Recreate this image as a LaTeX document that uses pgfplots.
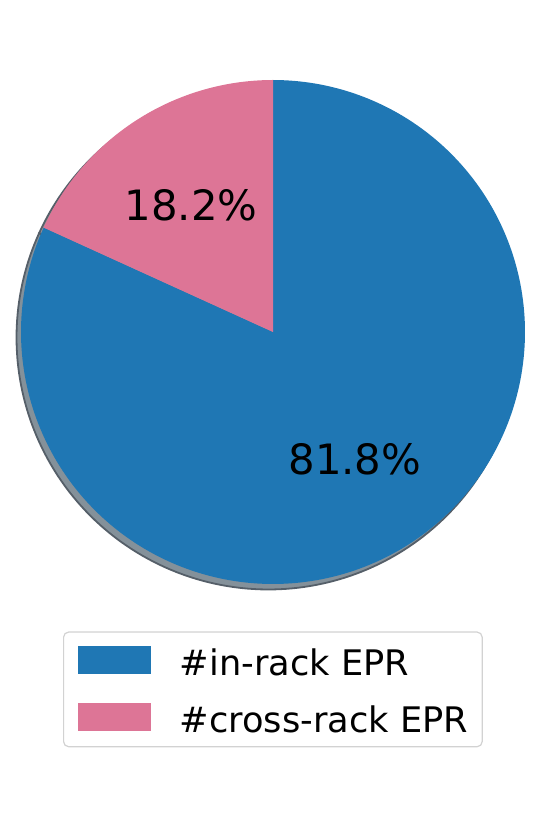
\documentclass[border=0pt]{standalone}
\usepackage{pgfplots}
\usepackage{pgfplotstable}
\pgfplotsset{compat=1.18}
\usepackage{fontspec}
\setmainfont{DejaVu Sans}
\definecolor{c1}{RGB}{31,119,180}
\definecolor{c2}{RGB}{221,117,150}
\definecolor{sh1}{RGB}{132,145,154}
\definecolor{sh2}{RGB}{160,145,150}
\definecolor{shedge}{RGB}{85,95,105}
\definecolor{lgframe}{RGB}{210,210,210}
\pgfplotstableread{
label value
in 81.8
cross 18.2
}\piedata
\begin{document}
\begin{tikzpicture}
\pgfplotstablegetelem{0}{value}\of\piedata \let\vin\pgfplotsretval
\pgfplotstablegetelem{1}{value}\of\piedata \let\vcross\pgfplotsretval
\pgfmathsetmacro\aB{90+3.6*\vcross}
\pgfmathsetmacro\mA{90+1.8*\vcross}
\pgfmathsetmacro\mB{\aB+1.8*\vin}
\begin{axis}[
  width=274pt, height=410pt, scale only axis,
  xmin=0, xmax=548, ymin=0, ymax=820,
  hide axis, clip=false,
  legend style={at={(axis cs:63,188.5)}, anchor=north west,
    draw=lgframe, rounded corners=2.5pt, line width=0.6pt,
    inner xsep=7pt, inner ysep=7pt,
    font=\fontsize{17.6}{21}\selectfont,
    row sep=13.5pt, column sep=14.5pt,
    nodes={inner sep=0pt, text height=13pt, text depth=0pt}},
  legend cell align=left,
]
\path (rel axis cs:0,0) rectangle (rel axis cs:1,1);
% shadow
\addplot[fill=sh1, draw=shedge, line width=0.9pt, domain=\aB:450, samples=200, variable=\t, forget plot]
  ({268.5+252*cos(\t)},{482.5+252*sin(\t)}) -- (268.5,482.5) -- cycle;
\addplot[fill=sh2, draw=shedge, line width=0.9pt, domain=90:\aB, samples=60, variable=\t, forget plot]
  ({268.5+252*cos(\t)},{482.5+252*sin(\t)}) -- (268.5,482.5) -- cycle;
% wedges
\addplot[fill=c1, draw=none, domain=\aB:450, samples=240, variable=\t, forget plot]
  ({273+252*cos(\t)},{488+252*sin(\t)}) -- (273,488) -- cycle;
\addplot[fill=c2, draw=none, domain=90:\aB, samples=80, variable=\t, forget plot]
  ({273+252*cos(\t)},{488+252*sin(\t)}) -- (273,488) -- cycle;
\node[font=\fontsize{20.9}{25}\selectfont] at (axis cs:{273+151.2*cos(\mA)},{488+151.2*sin(\mA)}) {\vcross\%};
\node[font=\fontsize{20.9}{25}\selectfont] at (axis cs:{273+151.2*cos(\mB)},{488+151.2*sin(\mB)}) {\vin\%};
\addlegendimage{legend image code/.code={\fill[c1, sharp corners] (0pt,-5.2pt) rectangle (36pt,8.1pt);}}
\addlegendentry{\#in-rack EPR}
\addlegendimage{legend image code/.code={\fill[c2, sharp corners] (0pt,-5.2pt) rectangle (36pt,8.1pt);}}
\addlegendentry{\#cross-rack EPR}
\end{axis}
\end{tikzpicture}
\end{document}
